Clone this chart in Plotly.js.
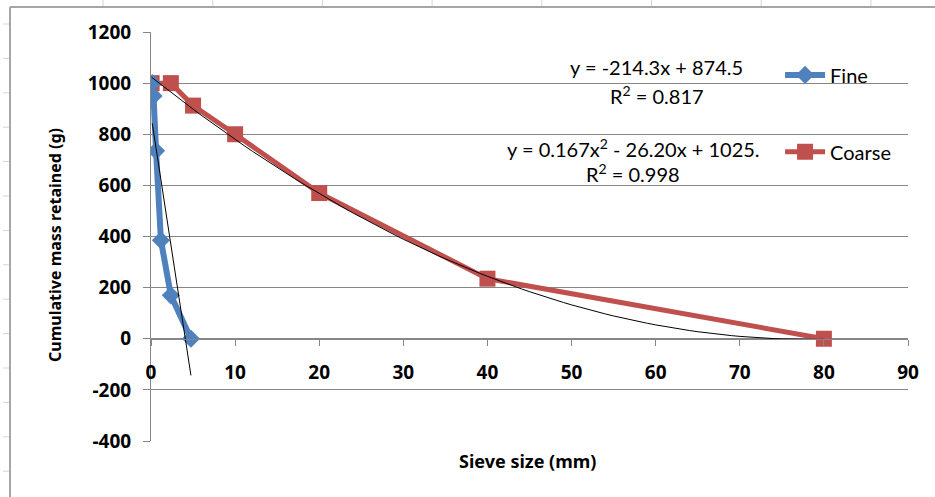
<!DOCTYPE html>
<html>
<head>
<meta charset="utf-8">
<script src="https://cdn.plot.ly/plotly-3.0.1.min.js"></script>
<style>html,body{margin:0;padding:0;background:#fff;}#chart{width:935px;height:497px;}</style>
</head>
<body>
<div id="chart"></div>
<script>
// Data
const fineX = [0.15, 0.3, 0.6, 1.18, 2.36, 4.75];
const fineY = [1000, 950, 735, 385, 170, 0];
const coarseX = [0.075, 2.36, 5, 10, 20, 40, 80];
const coarseY = [1000, 1000, 912, 800, 570, 235, 0];
// Trendline coefficients shown on the chart
const fineLin = {slope: -214.3, intercept: 874.5};
const coarsePoly = {a: 0.167, b: -26.20, c: 1025};
const xTicks = [0, 10, 20, 30, 40, 50, 60, 70, 80, 90];
const yTicks = [-400, -200, 0, 200, 400, 600, 800, 1000, 1200];

const fineTrendX = [Math.min(...fineX), Math.max(...fineX)];
const fineTrendY = fineTrendX.map(x => fineLin.slope * x + fineLin.intercept);
const coarseTrendX = [];
const cMin = Math.min(...coarseX), cMax = Math.max(...coarseX);
for (let i = 0; i <= 80; i++) coarseTrendX.push(cMin + (cMax - cMin) * i / 80);
const coarseTrendY = coarseTrendX.map(x => coarsePoly.a * x * x + coarsePoly.b * x + coarsePoly.c);

const font = 'Lato, "Open Sans", Arial, sans-serif';
const boldFont = '"Noto Sans", "Liberation Sans", Arial, sans-serif';

const traces = [
  {x: coarseX, y: coarseY, mode: 'lines+markers', name: 'Coarse', legend: 'legend2',
   line: {color: '#C0504D', width: 5}, marker: {symbol: 'square', size: 16, color: '#C0504D'}},
  {x: fineX, y: fineY, mode: 'lines+markers', name: 'Fine', legend: 'legend',
   line: {color: '#4F81BD', width: 6}, marker: {symbol: 'diamond', size: 14, color: '#4F81BD'}},
  {x: fineTrendX, y: fineTrendY, mode: 'lines', showlegend: false, hoverinfo: 'skip',
   line: {color: '#000', width: 1}},
  {x: coarseTrendX, y: coarseTrendY, mode: 'lines', showlegend: false, hoverinfo: 'skip',
   line: {color: '#000', width: 1}}
];

const tickFont = {family: boldFont, size: 19, color: '#000', weight: 'bold'};
const noteFont = {family: font, size: 20, color: '#000'};

// Decorative spreadsheet frame (pixel offsets from plot-area top-left at 151,32)
const frameShapes = [
  {type: 'line', xref: 'paper', yref: 'paper', xsizemode: 'pixel', ysizemode: 'pixel',
   xanchor: 0, yanchor: 1, x0: -141, x1: -141, y0: 25, y1: -470, line: {color: '#a6a6a6', width: 2}},
  {type: 'line', xref: 'paper', yref: 'paper', xsizemode: 'pixel', ysizemode: 'pixel',
   xanchor: 0, yanchor: 1, x0: -141, x1: 800, y0: 25, y1: 25, line: {color: '#a6a6a6', width: 2}}
];
for (let i = 0; i < 8; i++) {
  const px = 103 + i * 109.7;
  frameShapes.push({type: 'line', xref: 'paper', yref: 'paper', xsizemode: 'pixel', ysizemode: 'pixel',
    xanchor: 0, yanchor: 1, x0: px - 151, x1: px - 151, y0: 32, y1: 26, line: {color: '#cfd6e2', width: 1}});
}
for (let i = 0; i < 14; i++) {
  const py = 24 + i * 34.4;
  frameShapes.push({type: 'line', xref: 'paper', yref: 'paper', xsizemode: 'pixel', ysizemode: 'pixel',
    xanchor: 0, yanchor: 1, x0: -148, x1: -142, y0: 32 - py, y1: 32 - py, line: {color: '#cfd6e2', width: 1}});
}

const layout = {
  width: 935, height: 497,
  margin: {l: 151, r: 27, t: 32, b: 56},
  paper_bgcolor: '#fff', plot_bgcolor: '#fff',
  font: {family: font, color: '#000'},
  xaxis: {
    range: [0, 90], tickvals: xTicks, ticktext: xTicks.map(v => '<b>' + v + '</b>'),
    anchor: 'free', position: 0.25,
    showgrid: false, zeroline: false,
    showline: true, linecolor: '#868686', linewidth: 1,
    ticks: 'outside', ticklen: 6, tickcolor: '#868686',
    ticklabelstandoff: 10,
    tickfont: tickFont
  },
  yaxis: {
    range: [-400, 1200], tickvals: yTicks, ticktext: yTicks.map(v => '<b>' + v + '</b>'),
    showgrid: true, gridcolor: '#868686', gridwidth: 1, zeroline: false,
    showline: true, linecolor: '#868686', linewidth: 1,
    ticks: 'outside', ticklen: 7, tickcolor: '#868686',
    ticklabelstandoff: 8,
    tickfont: tickFont
  },
  legend: {x: 0.831, y: 0.895, xanchor: 'left', yanchor: 'middle', bgcolor: 'rgba(0,0,0,0)',
    font: noteFont, itemwidth: 40},
  legend2: {x: 0.831, y: 0.707, xanchor: 'left', yanchor: 'middle', bgcolor: 'rgba(0,0,0,0)',
    font: noteFont, itemwidth: 40},
  annotations: [
    {xref: 'paper', yref: 'paper', x: 0.668, y: 0.914, xanchor: 'center', yanchor: 'middle', text: 'y = -214.3x + 874.5', showarrow: false, font: noteFont},
    {xref: 'paper', yref: 'paper', x: 0.668, y: 0.846, xanchor: 'center', yanchor: 'middle', text: 'R<sup>2</sup> = 0.817', showarrow: false, font: noteFont},
    {xref: 'paper', yref: 'paper', x: 0.637, y: 0.716, xanchor: 'center', yanchor: 'middle', text: 'y = 0.167x<sup>2</sup> - 26.20x + 1025.', showarrow: false, font: noteFont},
    {xref: 'paper', yref: 'paper', x: 0.637, y: 0.655, xanchor: 'center', yanchor: 'middle', text: 'R<sup>2</sup> = 0.998', showarrow: false, font: noteFont},
    {xref: 'paper', yref: 'paper', x: 0.498, y: -0.05, xanchor: 'center', yanchor: 'middle', text: '<b>Sieve size (mm)</b>', showarrow: false,
     font: {family: boldFont, size: 18, color: '#000', weight: 'bold'}},
    {xref: 'paper', yref: 'paper', x: -0.127, y: 0.479, xanchor: 'center', yanchor: 'middle', textangle: -90,
     text: '<b>Cumulative mass retained (g)</b>', showarrow: false, font: {family: boldFont, size: 16, color: '#000', weight: 'bold'}}
  ],
  shapes: frameShapes
};

Plotly.newPlot('chart', traces, layout, {displayModeBar: false, staticPlot: true});
</script>
</body>
</html>
